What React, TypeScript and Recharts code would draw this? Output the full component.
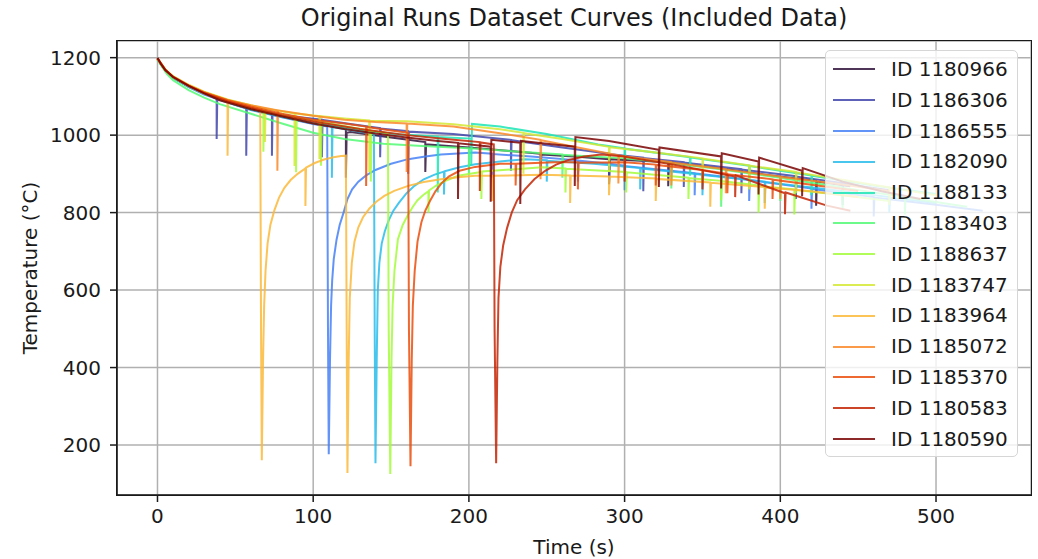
import { LineChart, Line, XAxis, YAxis, CartesianGrid } from "recharts";

type Pt = [number, number];

// time (s), temperature (°C) per run
const run1180966: Pt[] = [
  [0, 1196], [3, 1178], [6, 1163], [10, 1148], [20, 1125], [30, 1107], [45, 1086], [60, 1067], [80, 1048], [100, 1031],
  [121, 1016], [121, 890], [121.5, 1006], [124, 1008], [150, 994],
  [172, 982], [172, 905], [172.5, 976], [200, 968], [230, 958],
  [246, 952], [246, 895], [246.5, 950], [270, 944],
  [290, 938], [290, 873], [290.5, 938], [310, 934],
  [328, 930], [328, 868], [328.5, 930], [360, 915], [390, 898],
  [423, 882], [423, 818], [423.5, 880], [445, 868],
];

const run1186306: Pt[] = [
  [0, 1197], [3, 1179], [6, 1164], [10, 1149], [20, 1126], [30, 1108],
  [38, 1095], [38, 990], [38.4, 1094], [57, 1073], [57, 947], [57.4, 1072],
  [73.5, 1058], [73.5, 947], [73.9, 1057], [90, 1047],
  [105.6, 1040], [105.6, 943], [106, 1039], [125, 1028],
  [143, 1018], [143, 943], [143.4, 1017], [161, 1010], [161, 900], [161.4, 1009],
  [190, 1003], [227, 988], [227, 908], [227.4, 987], [260, 968],
  [290, 952], [290, 878], [290.4, 951], [312, 942], [312, 855], [312.4, 941],
  [338, 930], [338, 866], [338.4, 929], [375, 912], [375, 850], [375.4, 911],
  [410, 894], [410, 835], [410.4, 893], [440, 876], [440, 820], [440.4, 875], [470, 858],
];

const run1186555: Pt[] = [
  [0, 1196], [5, 1166], [10, 1148], [20, 1124], [30, 1105], [45, 1084], [60, 1065], [80, 1046], [100, 1029],
  [109, 1022], [109.5, 500], [110, 176], [110.8, 420], [111.5, 560], [112.2, 625], [113.2, 680], [115, 730],
  [117, 768], [119.5, 800], [122, 835], [125, 860], [129, 880], [134, 896], [140, 910], [150, 926],
  [161, 938], [172, 945], [182, 950], [204, 955],
  [215, 952], [215, 890], [215.4, 951], [240, 945], [270, 935], [270, 880], [270.4, 934],
  [290, 926], [300, 921], [300, 858], [300.4, 920], [320, 912], [345, 902], [345, 845], [345.4, 901],
  [380, 885], [380, 830], [380.4, 884], [420, 862], [420, 810], [420.4, 861],
  [460, 840], [460, 790], [460.4, 839], [500, 820], [530, 805],
];

const run1182090: Pt[] = [
  [0, 1196], [5, 1167], [10, 1149], [20, 1125], [30, 1107], [45, 1085], [60, 1066], [80, 1047], [100, 1030],
  [112, 1022], [112, 890], [112.4, 1021], [125, 1012], [139, 1003],
  [139.5, 500], [140, 153], [140.8, 420], [141.5, 600], [142.5, 670], [144, 720], [146, 752], [148.5, 780],
  [151.5, 805], [155, 825], [160, 850], [165, 869], [171, 886], [178, 898], [184, 906], [184, 847], [184.4, 907],
  [194, 917], [204, 925], [220, 932], [236, 938],
  [250, 935], [250, 880], [250.4, 934], [280, 926], [310, 915], [310, 860], [310.4, 914],
  [350, 898], [350, 845], [350.4, 897], [390, 880], [390, 825], [390.4, 879],
  [430, 860], [470, 840], [470, 800], [470.4, 839], [500, 825],
];

const run1188133: Pt[] = [
  [0, 1197], [5, 1167], [10, 1149], [20, 1126], [30, 1107], [45, 1086], [60, 1067], [80, 1048], [100, 1031],
  [130, 1012], [155, 1002], [180, 996], [180, 852], [180.4, 995],
  [201.5, 991], [201.5, 921], [202, 1029], [220, 1022], [250, 1003], [283, 976],
  [300, 966], [300, 900], [300.4, 965], [342, 943], [342, 895], [342.4, 942],
  [380, 921], [380, 870], [380.4, 920], [420, 896], [420, 845], [420.4, 895], [460, 870], [500, 848],
];

const run1183403: Pt[] = [
  [0, 1195], [3, 1176], [6, 1158], [10, 1142], [20, 1116], [30, 1097], [40, 1080], [60, 1055], [80, 1030],
  [100, 1006], [120, 990], [145, 978], [170, 972], [200, 966], [200, 900], [200.4, 966],
  [230, 958], [260, 950], [260, 890], [260.4, 949], [300, 940],
  [330, 928], [330, 862], [330.4, 927], [362, 912], [362, 815], [362.4, 911],
  [400, 890], [400, 830], [400.4, 889], [440, 865], [440, 812], [440.4, 864],
  [480, 840], [480, 795], [480.4, 839], [520, 815],
];

const run1188637: Pt[] = [
  [0, 1197], [5, 1168], [10, 1150], [20, 1127], [30, 1108], [45, 1086], [60, 1070],
  [68, 1062], [68, 957], [68.4, 1061], [89, 1046], [89, 904], [89.4, 1045],
  [105, 1035], [105, 921], [105.4, 1034], [125, 1020], [137, 1012], [137, 880], [137.4, 1011],
  [148, 1005], [148.5, 500], [149.5, 125], [150.3, 420], [151, 560], [152.2, 650], [154.4, 731],
  [157.5, 768], [161, 795], [164, 815], [167, 832], [170.5, 845], [174, 855], [174, 800], [174.4, 857],
  [179, 870], [185, 882], [193, 895],
  [208, 905], [208, 835], [208.4, 906], [230, 912], [247, 917],
  [262, 914], [262, 852], [262.4, 913], [301, 905], [301, 852], [301.4, 904],
  [341, 890], [341, 835], [341.4, 889], [362, 882], [362, 832], [362.4, 881],
  [386, 870], [386, 800], [386.4, 869], [409, 860], [409, 795], [409.4, 859], [440, 845], [470, 830],
];

const run1183747: Pt[] = [
  [0, 1198], [5, 1170], [10, 1152], [20, 1130], [30, 1112], [45, 1092],
  [69, 1068], [69, 982], [69.4, 1068], [88, 1056], [88, 920], [88.4, 1056],
  [104, 1049], [104, 938], [104.4, 1049], [120, 1043], [136, 1038], [136, 905], [136.4, 1037],
  [160, 1036], [190, 1028], [220, 1015], [235, 1006], [235, 900], [235.4, 1005],
  [260, 990], [290, 970], [290, 905], [290.4, 969], [320, 955],
  [350, 940], [350, 880], [350.4, 939], [380, 922], [380, 860], [380.4, 921],
  [410, 905], [410, 850], [410.4, 904], [440, 885], [470, 865], [470, 820], [470.4, 864], [500, 845],
];

const run1183964: Pt[] = [
  [0, 1197], [5, 1168], [10, 1150], [20, 1127], [30, 1108], [45, 1088], [45, 947], [45.4, 1087],
  [60, 1072], [66, 1066], [66.5, 500], [67, 161], [67.8, 420], [68.5, 560], [69.4, 650], [70.7, 720],
  [72.5, 768], [75, 805], [78, 838], [81.5, 864], [85.5, 884], [90, 900], [95, 914], [95, 817], [95.4, 916],
  [101, 928], [107, 937], [113, 943], [118, 946],
  [121, 947], [121.5, 500], [122, 128], [122.8, 420], [123.5, 580], [124.8, 670], [126.5, 725],
  [129, 762], [132, 788], [136, 810], [140.5, 828], [145.7, 843], [152, 856], [161, 869],
  [171, 879], [182, 886], [193, 891], [204, 895], [215, 895], [215, 830], [215.4, 895],
  [247, 898], [265, 896], [265, 825], [265.4, 896], [290, 893], [290, 845], [290.4, 893],
  [320, 888], [320, 830], [320.4, 887], [355, 878], [355, 815], [355.4, 877],
  [390, 866], [390, 810], [390.4, 865], [420, 855], [450, 840],
];

const run1185072: Pt[] = [
  [0, 1198], [5, 1169], [10, 1151], [20, 1129], [30, 1111], [45, 1091], [60, 1077],
  [77, 1064], [77, 908], [77.4, 1064], [100, 1050], [120, 1040], [140, 1034],
  [160, 1030], [160, 905], [160.4, 1030], [190, 1022], [220, 1005],
  [246, 988], [246, 886], [246.4, 987], [270, 968], [296, 948], [296, 875], [296.4, 947],
  [330, 930], [330, 870], [330.4, 929], [365, 912], [365, 850], [365.4, 911],
  [400, 893], [400, 835], [400.4, 892], [435, 875], [470, 856],
];

const run1185370: Pt[] = [
  [0, 1198], [5, 1169], [10, 1151], [20, 1128], [30, 1110], [45, 1090], [60, 1074], [80, 1055], [100, 1040],
  [120, 1030], [134, 1022], [134, 869], [134.4, 1021], [150, 1012], [161, 1006],
  [161.5, 500], [162.5, 145], [163.3, 420], [164, 560], [165.2, 650], [167, 725], [169.5, 775],
  [172, 805], [175, 830], [178.5, 855], [182.5, 876], [187, 893], [194, 908],
  [204, 918], [220, 926], [230, 926], [230, 870], [230.4, 926], [255, 930],
  [270, 930], [270, 860], [270.4, 929], [300, 930], [320, 924], [320, 870], [320.4, 923],
  [350, 910], [366, 900], [366, 850], [366.4, 899], [395, 886], [395, 835], [395.4, 885], [420, 872], [450, 856],
];

const run1180583: Pt[] = [
  [0, 1198], [5, 1168], [10, 1150], [20, 1127], [30, 1108], [45, 1087], [60, 1070], [80, 1051], [100, 1035],
  [130, 1016], [160, 1000], [185, 990], [207, 982], [207, 856], [207.4, 981], [216, 976],
  [216.5, 500], [217.5, 153], [218.3, 420], [219, 580], [220.2, 660], [222, 715], [224.5, 760],
  [227.5, 800], [231, 832], [236, 860], [242, 886], [249, 908], [256, 924], [264, 936],
  [274, 945], [285, 950],
  [300, 945], [300, 880], [300.4, 944], [330, 925], [350, 910], [350, 860], [350.4, 909],
  [371, 893], [371, 840], [371.4, 896], [403, 850], [403, 796], [403.4, 852], [430, 818], [445, 805],
];

const run1180590: Pt[] = [
  [0, 1200], [2, 1185], [5, 1168], [10, 1150], [20, 1127], [30, 1108], [40, 1090], [60, 1067], [80, 1048],
  [100, 1030], [120, 1016], [140, 1004], [160, 994], [180, 985],
  [193, 980], [193, 835], [193.4, 979], [214, 970], [214, 828], [214.4, 988],
  [233, 980], [233, 822], [233.4, 985], [250, 978], [268, 970], [268, 869], [268.4, 995],
  [290, 985], [322, 962], [322, 866], [322.4, 968], [362, 945], [362, 862], [362.4, 953],
  [386, 932], [386, 847], [386.4, 942], [414, 908], [414, 842], [414.4, 915],
  [440, 880], [465, 855], [490, 835],
];

const runs = [
  { id: "1180966", color: "#30123b", pts: run1180966 },
  { id: "1186306", color: "#4145ab", pts: run1186306 },
  { id: "1186555", color: "#4680f6", pts: run1186555 },
  { id: "1182090", color: "#28bceb", pts: run1182090 },
  { id: "1188133", color: "#1be5b5", pts: run1188133 },
  { id: "1183403", color: "#52fa76", pts: run1183403 },
  { id: "1188637", color: "#a4fc3c", pts: run1188637 },
  { id: "1183747", color: "#d5e834", pts: run1183747 },
  { id: "1183964", color: "#fcb938", pts: run1183964 },
  { id: "1185072", color: "#fa8a29", pts: run1185072 },
  { id: "1185370", color: "#ea4f0d", pts: run1185370 },
  { id: "1180583", color: "#c32503", pts: run1180583 },
  { id: "1180590", color: "#7a0403", pts: run1180590 },
];

const xTicks = [0, 100, 200, 300, 400, 500];
const yTicks = [200, 400, 600, 800, 1000, 1200];

const FONT = "'DejaVu Sans', sans-serif";
const tickStyle = { fontSize: 20, fill: "#1a1a1a", fontFamily: FONT };

// plot box in page pixels
const PL = 117, PT = 41, PR = 1031, PB = 495;

const App = () => {
  return (
    <div style={{ position: "absolute", left: 0, top: 0, width: 1038, height: 559, background: "#fff", fontFamily: FONT, color: "#1a1a1a" }}>
      <LineChart width={1038} height={559} margin={{ top: PT, right: 1038 - PR, bottom: 559 - PB - 30, left: 0 }}>
        <CartesianGrid stroke="#b0b0b0" strokeWidth={1.5} />
        <XAxis
          type="number"
          dataKey="t"
          domain={[-26, 561]}
          ticks={xTicks}
          allowDataOverflow
          height={30}
          tick={tickStyle}
          tickSize={7}
          tickMargin={7}
          stroke="#1a1a1a"
          strokeWidth={1.5}
        />
        <YAxis
          type="number"
          dataKey="T"
          domain={[71, 1243]}
          ticks={yTicks}
          allowDataOverflow
          width={PL}
          tick={tickStyle}
          tickSize={7}
          tickMargin={9}
          stroke="#1a1a1a"
          strokeWidth={1.5}
        />
        {runs.map((r) => (
          <Line
            key={r.id}
            name={`ID ${r.id}`}
            data={r.pts.map(([t, T]) => ({ t, T }))}
            dataKey="T"
            type="linear"
            stroke={r.color}
            strokeOpacity={0.85}
            strokeWidth={2}
            dot={false}
            activeDot={false}
            isAnimationActive={false}
          />
        ))}
      </LineChart>

      {/* axes frame */}
      <div style={{ position: "absolute", left: PL - 0.75, top: PT - 0.75, width: PR - PL, height: PB - PT, border: "1.5px solid #1a1a1a", pointerEvents: "none" }} />

      <div style={{ position: "absolute", left: PL, top: 5, width: PR - PL, lineHeight: "26px", fontSize: 24, textAlign: "center" }}>
        Original Runs Dataset Curves (Included Data)
      </div>
      <div style={{ position: "absolute", left: PL, top: 535, width: PR - PL, lineHeight: "24px", fontSize: 20, textAlign: "center" }}>
        Time (s)
      </div>
      <div style={{ position: "absolute", left: 30 - 110, top: (PT + PB) / 2 - 12, width: 220, lineHeight: "24px", fontSize: 20, textAlign: "center", transform: "rotate(-90deg)" }}>
        Temperature (°C)
      </div>

      {/* legend */}
      <div style={{ position: "absolute", left: 825, top: 50, width: 193, height: 407, background: "rgba(255,255,255,0.8)", border: "1px solid #d6d6d6", borderRadius: 5, boxSizing: "border-box" }}>
        {runs.map((r, i) => (
          <div key={r.id} style={{ position: "absolute", left: 0, top: 3 + i * 30.8, height: 30.8, width: 190 }}>
            <div style={{ position: "absolute", left: 7, top: 14.4, width: 42, height: 2, background: r.color, opacity: 0.85 }} />
            <div style={{ position: "absolute", left: 65, top: 0, lineHeight: "30.8px", fontSize: 20, whiteSpace: "nowrap" }}>ID {r.id}</div>
          </div>
        ))}
      </div>
    </div>
  );
};

export default App;
